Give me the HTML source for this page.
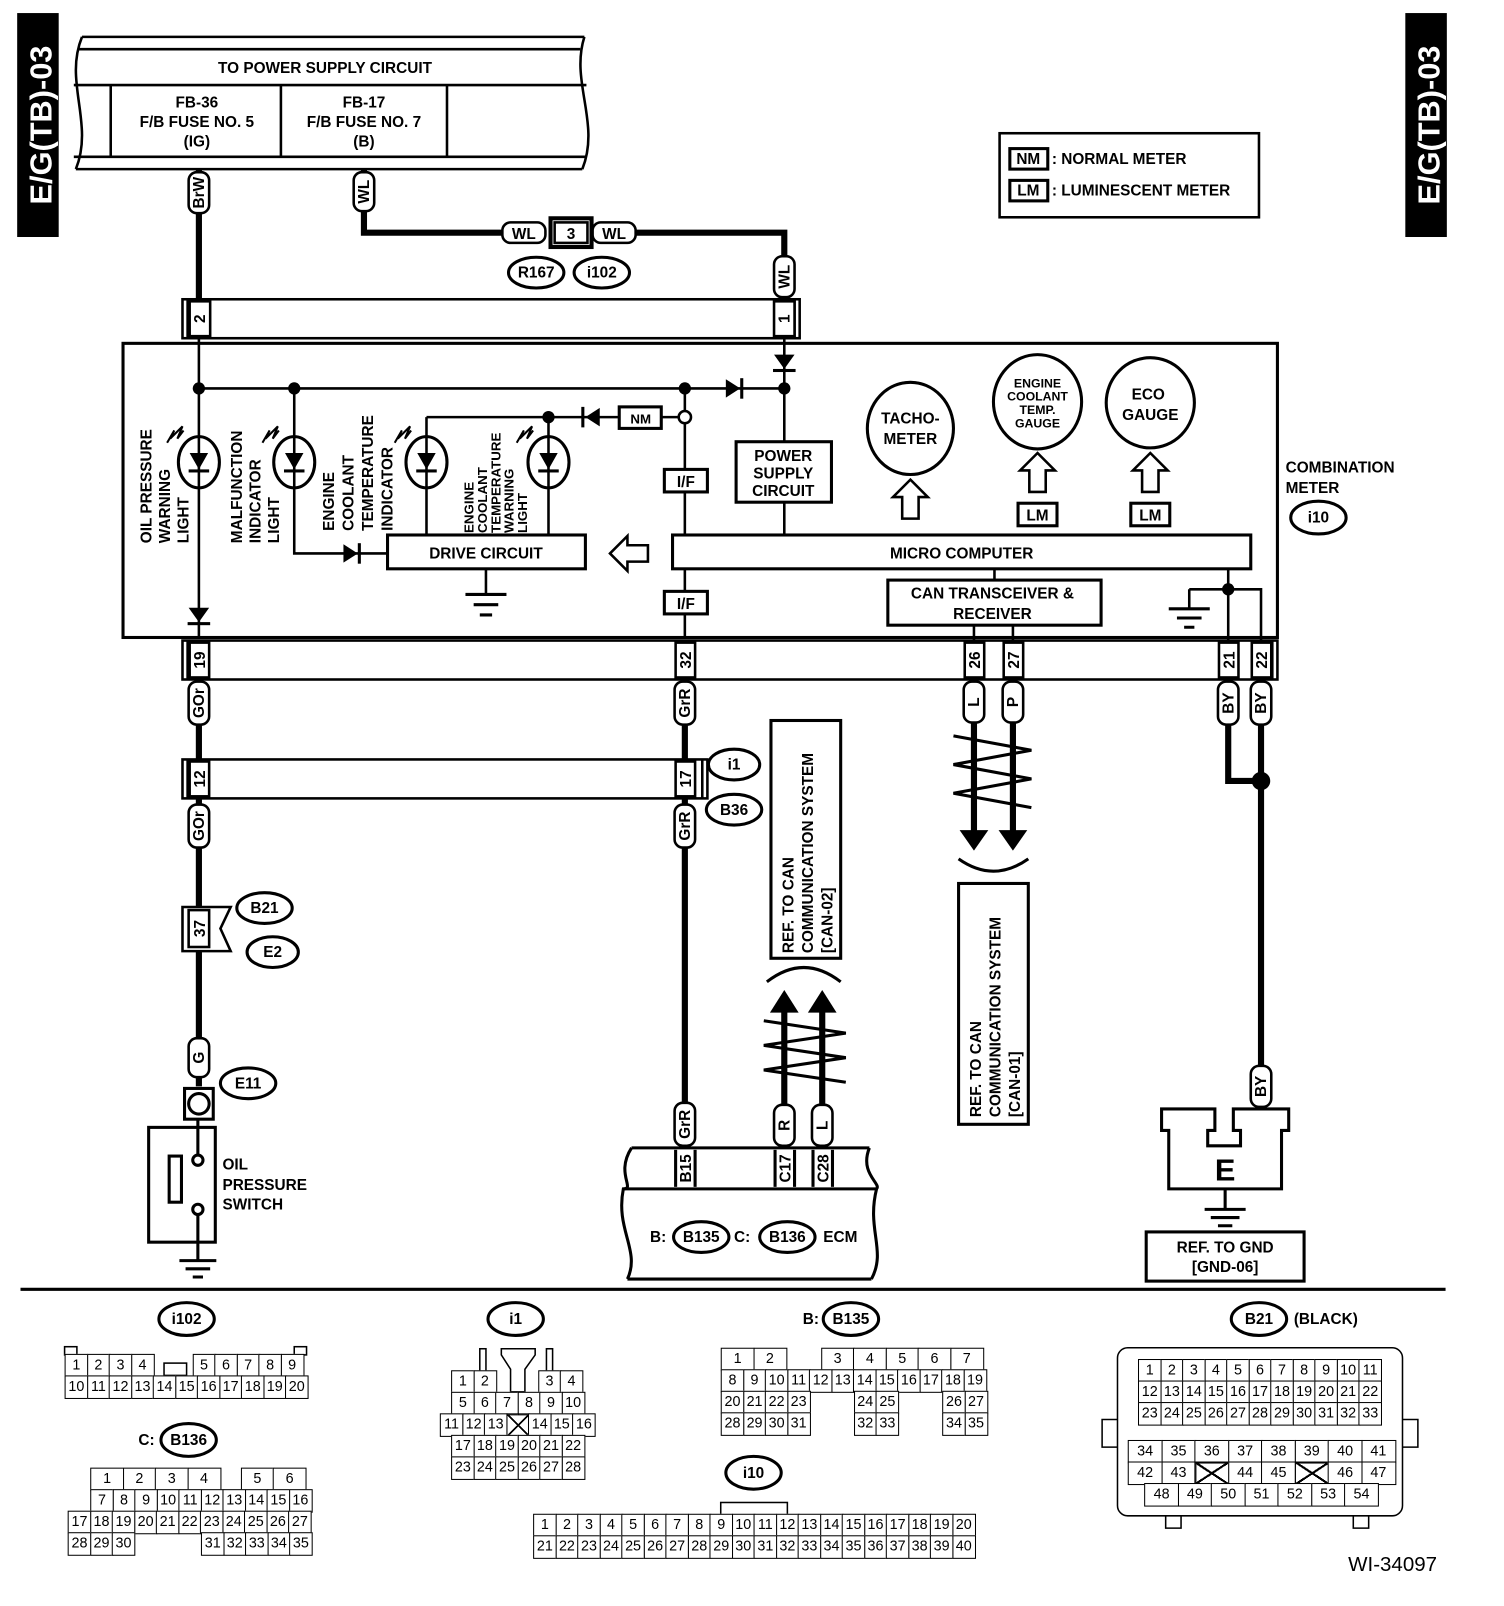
<!DOCTYPE html>
<html><head><meta charset="utf-8">
<style>
html,body{margin:0;padding:0;background:#fff;}
#c{position:absolute;left:0;top:0;width:1467px;height:1567px;transform:scale(1.02522,1.02489);transform-origin:0 0;overflow:hidden;}
svg{position:absolute;left:0;top:0;}
svg text{font-family:"Liberation Sans",sans-serif;font-weight:bold;font-size:15px;fill:#000;}
.r{position:absolute;display:flex;font-family:"Liberation Sans Narrow","Liberation Sans",sans-serif;font-size:14px;}
.r span{box-sizing:border-box;border:1.5px solid #000;margin:0 -1.5px 0 0;height:22.5px;line-height:19px;text-align:center;background:#fff;}
.r span.e{border-color:transparent;background:transparent;}
.r span.x{background:linear-gradient(to top right,transparent 47%,#000 47%,#000 53%,transparent 53%),linear-gradient(to bottom right,transparent 47%,#000 47%,#000 53%,transparent 53%);}
</style></head><body><div id="c">
<svg width="1467" height="1567" viewBox="0 0 1467 1567">
<g fill="none" stroke="#000" stroke-width="2.5">
<rect x="18" y="14" width="38" height="216" fill="#000"/>
<rect x="1372" y="14" width="38" height="216" fill="#000"/>
<path d="M80,36 L570,36 M76,48 L566,48 M72,83 L572,83 M72,153 L572,153 M74,165 L568,165"/>
<path d="M80,36 C62,80 92,120 74,165 M570,36 C556,80 586,120 568,165"/>
<path d="M108,83 V153 M274,83 V153 M436,83 V153"/>
<rect x="975" y="130" width="253" height="82"/>
<rect x="985" y="145" width="37" height="20" stroke-width="3"/>
<rect x="985" y="176" width="37" height="20" stroke-width="3"/>
</g>
<text transform="translate(50,122) rotate(-90)" text-anchor="middle" style="fill:#fff;font-size:30px">E/G(TB)-03</text>
<text transform="translate(1404,122) rotate(-90)" text-anchor="middle" style="fill:#fff;font-size:30px">E/G(TB)-03</text>
<g text-anchor="middle">
<text x="317" y="71">TO POWER SUPPLY CIRCUIT</text>
<text x="192" y="105">FB-36</text><text x="192" y="124">F/B FUSE NO. 5</text><text x="192" y="143">(IG)</text>
<text x="355" y="105">FB-17</text><text x="355" y="124">F/B FUSE NO. 7</text><text x="355" y="143">(B)</text>
<text x="1003" y="160">NM</text><text x="1003" y="191">LM</text>
</g>
<text x="1026" y="160">: NORMAL METER</text>
<text x="1026" y="191">: LUMINESCENT METER</text>

<g stroke="#000" stroke-width="6" fill="none">
<path d="M194,165 V295"/>
<path d="M355,165 V227 H490 M620,227 H765 V292"/>
<path d="M194,663 V1060"/>
<path d="M668,663 V1120"/>
<path d="M950,663 V812 M988,663 V812"/>
<path d="M765,985 V1120 M802,985 V1120"/>
<path d="M1198,663 V762 H1230 M1230,663 V1085"/>
</g>
<circle cx="1230" cy="762" r="9"/>
<g stroke="#000" stroke-width="3" fill="none">
<polyline points="930,718 1006,732 930,746 1006,760 930,774 1006,788"/>
<polyline points="745,996 825,1008 745,1020 825,1032 745,1044 825,1056"/>
<path d="M935,838 Q969,862 1003,838"/>
<path d="M748,958 Q784,930 820,958"/>
</g>
<g fill="#000">
<polygon points="936,810 964,810 950,830"/><polygon points="974,810 1002,810 988,830"/>
<polygon points="751,988 779,988 765,966"/><polygon points="788,988 816,988 802,966"/>
</g>

<g fill="#fff" stroke="#000" stroke-width="2.5">
<rect x="184" y="168" width="20" height="40" rx="8"/>
<rect x="345" y="168" width="20" height="38" rx="8"/>
<rect x="490" y="217" width="42" height="20" rx="8"/>
<rect x="578" y="217" width="42" height="20" rx="8"/>
<rect x="755" y="250" width="20" height="40" rx="8"/>
<rect x="184" y="665" width="20" height="42" rx="8"/>
<rect x="658" y="665" width="20" height="42" rx="8"/>
<rect x="940" y="665" width="20" height="40" rx="8"/>
<rect x="978" y="665" width="20" height="40" rx="8"/>
<rect x="1188" y="665" width="20" height="42" rx="8"/>
<rect x="1220" y="665" width="20" height="42" rx="8"/>
<rect x="184" y="785" width="20" height="42" rx="8"/>
<rect x="658" y="785" width="20" height="42" rx="8"/>
<rect x="184" y="1013" width="20" height="38" rx="8"/>
<rect x="658" y="1076" width="20" height="42" rx="8"/>
<rect x="755" y="1078" width="20" height="40" rx="8"/>
<rect x="792" y="1078" width="20" height="40" rx="8"/>
<rect x="1220" y="1040" width="20" height="40" rx="8"/>
<rect x="537" y="213" width="40" height="28" stroke-width="4"/>
<rect x="541" y="217" width="32" height="20"/>
</g>
<g text-anchor="middle">
<text transform="translate(199,188) rotate(-90)">BrW</text>
<text transform="translate(360,187) rotate(-90)">WL</text>
<text x="511" y="233">WL</text><text x="599" y="233">WL</text><text x="557" y="233">3</text>
<text transform="translate(770,270) rotate(-90)">WL</text>
<text transform="translate(199,686) rotate(-90)">GOr</text>
<text transform="translate(673,686) rotate(-90)">GrR</text>
<text transform="translate(955,685) rotate(-90)">L</text>
<text transform="translate(993,685) rotate(-90)">P</text>
<text transform="translate(1203,686) rotate(-90)">BY</text>
<text transform="translate(1235,686) rotate(-90)">BY</text>
<text transform="translate(199,806) rotate(-90)">GOr</text>
<text transform="translate(673,806) rotate(-90)">GrR</text>
<text transform="translate(199,1032) rotate(-90)">G</text>
<text transform="translate(673,1097) rotate(-90)">GrR</text>
<text transform="translate(770,1098) rotate(-90)">R</text>
<text transform="translate(807,1098) rotate(-90)">L</text>
<text transform="translate(1235,1060) rotate(-90)">BY</text>
</g>

<g fill="#fff" stroke="#000" stroke-width="3">
<ellipse cx="523" cy="266" rx="27" ry="15"/><ellipse cx="587" cy="266" rx="27" ry="15"/>
<ellipse cx="1286" cy="505" rx="27" ry="16"/>
<ellipse cx="716" cy="746" rx="25" ry="15"/><ellipse cx="716" cy="790" rx="27" ry="15"/>
<ellipse cx="258" cy="886" rx="27" ry="15"/><ellipse cx="266" cy="929" rx="25" ry="15"/>
<ellipse cx="242" cy="1057" rx="27" ry="15"/>
<ellipse cx="684" cy="1207" rx="27" ry="15"/><ellipse cx="768" cy="1207" rx="27" ry="15"/>
<ellipse cx="182" cy="1287" rx="27" ry="16"/><ellipse cx="503" cy="1287" rx="27" ry="16"/>
<ellipse cx="830" cy="1287" rx="27" ry="16"/><ellipse cx="1228" cy="1287" rx="27" ry="16"/>
<ellipse cx="184" cy="1405" rx="27" ry="16"/><ellipse cx="735" cy="1437" rx="27" ry="16"/>
</g>
<g text-anchor="middle">
<text x="523" y="271">R167</text><text x="587" y="271">i102</text><text x="1286" y="510">i10</text>
<text x="716" y="751">i1</text><text x="716" y="795">B36</text>
<text x="258" y="891">B21</text><text x="266" y="934">E2</text><text x="242" y="1062">E11</text>
<text x="684" y="1212">B135</text><text x="768" y="1212">B136</text>
<text x="182" y="1292">i102</text><text x="503" y="1292">i1</text><text x="830" y="1292">B135</text>
<text x="1228" y="1292">B21</text><text x="184" y="1410">B136</text><text x="735" y="1442">i10</text>
</g>
<text x="1262" y="1292">(BLACK)</text>
<text x="783" y="1292">B:</text><text x="135" y="1410">C:</text>
<text x="634" y="1212">B:</text><text x="716" y="1212">C:</text><text x="803" y="1212">ECM</text>

<g fill="#fff" stroke="#000" stroke-width="2.5">
<rect x="178" y="292" width="602" height="38"/>
<path d="M183,292 V330 M775,292 V330"/>
<rect x="185" y="294" width="20" height="34"/><rect x="755" y="294" width="20" height="34"/>
<rect x="120" y="335" width="1126" height="287" stroke-width="3"/>
<rect x="178" y="625" width="1068" height="38"/>
<path d="M183,625 V663 M1241,625 V663"/>
<rect x="185" y="627" width="19" height="34"/><rect x="659" y="627" width="19" height="34"/>
<rect x="941" y="627" width="19" height="34"/><rect x="979" y="627" width="19" height="34"/>
<rect x="1189" y="627" width="19" height="34"/><rect x="1221" y="627" width="19" height="34"/>
<rect x="178" y="741" width="512" height="38"/>
<path d="M183,741 V779 M685,741 V779"/>
<rect x="185" y="743" width="19" height="34"/><rect x="659" y="743" width="19" height="34"/>
<path d="M178,885 H225 L215,906 L225,928 H178 Z"/>
<rect x="184" y="888" width="20" height="36"/>
</g>
<g text-anchor="middle" style="font-size:14px">
<text transform="translate(200,311) rotate(-90)">2</text><text transform="translate(770,311) rotate(-90)">1</text>
<text transform="translate(200,644) rotate(-90)">19</text><text transform="translate(674,644) rotate(-90)">32</text>
<text transform="translate(956,644) rotate(-90)">26</text><text transform="translate(994,644) rotate(-90)">27</text>
<text transform="translate(1204,644) rotate(-90)">21</text><text transform="translate(1236,644) rotate(-90)">22</text>
<text transform="translate(200,760) rotate(-90)">12</text><text transform="translate(674,760) rotate(-90)">17</text>
<text transform="translate(200,906) rotate(-90)">37</text>
</g>

<g fill="none" stroke="#000" stroke-width="2.5">
<path d="M194,330 V622 M194,379 H765 M765,330 V522 M287,379 V540 H378 M416,407 H668 M416,407 V522 M535,407 V522 M668,379 V622 M474,555 V580 M970,555 V566 M950,610 V625 M988,610 V625"/>
<path d="M1198,555 V625 M1160,575 H1230 V625 M1160,575 V594"/>
<path d="M1140,594 H1180 M1148,603 H1172 M1155,612 H1165" stroke-width="3"/>
<path d="M454,580 H494 M462,590 H486 M468,600 H480" stroke-width="3"/>
<rect x="378" y="522" width="193" height="33" fill="#fff" stroke-width="3"/>
<rect x="656" y="522" width="564" height="33" fill="#fff" stroke-width="3"/>
<rect x="866" y="566" width="208" height="44" fill="#fff" stroke-width="3"/>
<rect x="718" y="431" width="93" height="59" fill="#fff" stroke-width="3"/>
<rect x="648" y="458" width="42" height="22" fill="#fff" stroke-width="3"/>
<rect x="648" y="577" width="42" height="22" fill="#fff" stroke-width="3"/>
<rect x="604" y="397" width="41" height="21" fill="#fff" stroke-width="3"/>
<circle cx="668" cy="407" r="6" fill="#fff"/>
<ellipse cx="194" cy="451" rx="20" ry="25" fill="#fff" stroke-width="3"/>
<ellipse cx="287" cy="451" rx="20" ry="25" fill="#fff" stroke-width="3"/>
<ellipse cx="416" cy="451" rx="20" ry="25" fill="#fff" stroke-width="3"/>
<ellipse cx="535" cy="451" rx="20" ry="25" fill="#fff" stroke-width="3"/>
<path d="M194,426 V476 M287,426 V476 M416,426 V476 M535,426 V476"/>
<ellipse cx="888" cy="418" rx="42" ry="45" stroke-width="3"/>
<ellipse cx="1012" cy="392" rx="43" ry="46" stroke-width="3"/>
<ellipse cx="1122" cy="393" rx="43" ry="44" stroke-width="3"/>
<path d="M888,468 L905,485 H896 V506 H880 V485 H871 Z"/>
<path d="M1012,442 L1029,459 H1020 V480 H1004 V459 H995 Z"/>
<path d="M1122,442 L1139,459 H1130 V480 H1114 V459 H1105 Z"/>
<path d="M595,540 L612,523 V532 H632 V548 H612 V557 Z"/>
<rect x="993" y="491" width="38" height="22" stroke-width="3"/>
<rect x="1103" y="491" width="38" height="22" stroke-width="3"/>
<path d="M163,432 l7,-12 l-4,8 l12,-12 l-5,12 l6,-8 M256,432 l7,-12 l-4,8 l12,-12 l-5,12 l6,-8 M385,432 l7,-12 l-4,8 l12,-12 l-5,12 l6,-8 M504,432 l7,-12 l-4,8 l12,-12 l-5,12 l6,-8" stroke-width="2"/>
</g>
<g fill="#000">
<circle cx="194" cy="379" r="6"/><circle cx="287" cy="379" r="6"/><circle cx="668" cy="379" r="6"/><circle cx="765" cy="379" r="6"/>
<circle cx="535" cy="407" r="6"/><circle cx="1198" cy="575" r="6"/>
<polygon points="185,442 203,442 194,458"/><polygon points="278,442 296,442 287,458"/>
<polygon points="407,442 425,442 416,458"/><polygon points="526,442 544,442 535,458"/>
<rect x="184" y="458" width="20" height="3"/><rect x="277" y="458" width="20" height="3"/><rect x="406" y="458" width="20" height="3"/><rect x="525" y="458" width="20" height="3"/>
<polygon points="184,593 204,593 194,607"/><rect x="183" y="607" width="22" height="3"/>
<polygon points="755,346 775,346 765,360"/><rect x="754" y="360" width="22" height="3"/>
<polygon points="708,370 708,388 722,379"/><rect x="722" y="369" width="3" height="20"/>
<polygon points="585,398 585,416 571,407"/><rect x="567" y="397" width="3" height="20"/>
<polygon points="335,531 335,549 349,540"/><rect x="349" y="530" width="3" height="20"/>
</g>
<g text-anchor="middle">
<text x="474" y="545">DRIVE CIRCUIT</text>
<text x="938" y="545">MICRO COMPUTER</text>
<text x="968" y="584">CAN TRANSCEIVER &amp;</text><text x="968" y="604">RECEIVER</text>
<text x="764" y="450">POWER</text><text x="764" y="467">SUPPLY</text><text x="764" y="484">CIRCUIT</text>
<text x="669" y="475">I/F</text><text x="669" y="594">I/F</text><text x="625" y="413" style="font-size:13px">NM</text>
<text x="888" y="413">TACHO-</text><text x="888" y="433">METER</text>
<text x="1012" y="378" style="font-size:12px">ENGINE</text><text x="1012" y="391" style="font-size:12px">COOLANT</text><text x="1012" y="404" style="font-size:12px">TEMP.</text><text x="1012" y="417" style="font-size:12px">GAUGE</text>
<text x="1120" y="390">ECO</text><text x="1122" y="410">GAUGE</text>
<text x="1012" y="508">LM</text><text x="1122" y="508">LM</text>
</g>
<g>
<text transform="translate(148,530) rotate(-90)">OIL PRESSURE</text>
<text transform="translate(166,530) rotate(-90)">WARNING</text>
<text transform="translate(184,530) rotate(-90)">LIGHT</text>
<text transform="translate(236,530) rotate(-90)">MALFUNCTION</text>
<text transform="translate(254,530) rotate(-90)">INDICATOR</text>
<text transform="translate(272,530) rotate(-90)">LIGHT</text>
<text transform="translate(326,518) rotate(-90)">ENGINE</text>
<text transform="translate(345,518) rotate(-90)">COOLANT</text>
<text transform="translate(364,518) rotate(-90)">TEMPERATURE</text>
<text transform="translate(383,518) rotate(-90)">INDICATOR</text>
<text transform="translate(462,520) rotate(-90)" style="font-size:13px">ENGINE</text>
<text transform="translate(475,520) rotate(-90)" style="font-size:13px">COOLANT</text>
<text transform="translate(488,520) rotate(-90)" style="font-size:13px">TEMPERATURE</text>
<text transform="translate(501,520) rotate(-90)" style="font-size:13px">WARNING</text>
<text transform="translate(514,520) rotate(-90)" style="font-size:13px">LIGHT</text>
<text x="1254" y="461">COMBINATION</text><text x="1254" y="481">METER</text>
</g>

<g fill="none" stroke="#000" stroke-width="3">
<rect x="180" y="1062" width="28" height="30"/><circle cx="194" cy="1077" r="10"/>
<rect x="145" y="1100" width="65" height="112"/>
<rect x="165" y="1128" width="12" height="45"/>
<path d="M193,1092 V1128 M193,1180 V1230"/>
<circle cx="193" cy="1132" r="5" fill="#fff"/><circle cx="193" cy="1180" r="5" fill="#fff"/>
<path d="M175,1230 H211 M181,1238 H205 M188,1246 H198"/>
</g>
<text x="217" y="1141">OIL</text><text x="217" y="1161">PRESSURE</text><text x="217" y="1180">SWITCH</text>

<g fill="none" stroke="#000" stroke-width="3">
<path d="M616,1120 H848 M608,1160 H855 M612,1248 H850"/>
<path d="M616,1120 C600,1145 620,1160 608,1160 C600,1200 625,1220 612,1248 M848,1120 C838,1145 860,1155 855,1160 C845,1200 865,1220 850,1248"/>
<path d="M659,1122 V1158 M678,1122 V1158 M756,1122 V1158 M775,1122 V1158 M793,1122 V1158 M812,1122 V1158"/>
</g>
<g text-anchor="middle" style="font-size:14px">
<text transform="translate(674,1140) rotate(-90)">B15</text>
<text transform="translate(771,1140) rotate(-90)">C17</text>
<text transform="translate(808,1140) rotate(-90)">C28</text>
</g>

<g fill="none" stroke="#000" stroke-width="3">
<rect x="752" y="703" width="68" height="232"/>
<rect x="935" y="862" width="68" height="235"/>
<rect x="1118" y="1202" width="154" height="48"/>
</g>
<text transform="translate(774,930) rotate(-90)">REF. TO CAN</text>
<text transform="translate(793,930) rotate(-90)">COMMUNICATION SYSTEM</text>
<text transform="translate(812,930) rotate(-90)">[CAN-02]</text>
<text transform="translate(957,1090) rotate(-90)">REF. TO CAN</text>
<text transform="translate(976,1090) rotate(-90)">COMMUNICATION SYSTEM</text>
<text transform="translate(995,1090) rotate(-90)">[CAN-01]</text>
<text x="1195" y="1222" text-anchor="middle">REF. TO GND</text>
<text x="1195" y="1241" text-anchor="middle">[GND-06]</text>

<g fill="#fff" stroke="#000" stroke-width="3">
<path d="M1133,1082 H1185 V1103 H1178 V1118 H1210 V1103 H1203 V1082 H1257 V1103 H1250 V1160 H1140 V1103 H1133 Z"/>
<path d="M1195,1160 V1180 M1175,1180 H1215 M1181,1188 H1209 M1188,1196 H1202" fill="none"/>
</g>
<text x="1195" y="1152" text-anchor="middle" style="font-size:30px">E</text>

<line x1="20" y1="1258" x2="1410" y2="1258" stroke="#000" stroke-width="3"/>
<text x="1315" y="1533" style="font-weight:normal;font-size:20px">WI-34097</text>

<g fill="#fff" stroke="#000" stroke-width="1.5">
<rect x="63" y="1314" width="12" height="8"/><rect x="287" y="1314" width="12" height="8"/>
<rect x="160" y="1330" width="22" height="12"/>
<rect x="468" y="1316" width="6" height="22"/><rect x="533" y="1316" width="6" height="22"/>
<path d="M489,1316 H522 V1322 L512,1336 V1358 H498 V1336 L489,1322 Z"/>
<rect x="703" y="1466" width="65" height="12"/>
<rect x="1090" y="1315" width="278" height="164" rx="10"/>
<path d="M1090,1385 H1075 V1412 H1090 M1368,1385 H1383 V1412 H1368 M1137,1479 V1491 H1152 V1479 M1320,1479 V1491 H1335 V1479" fill="none"/>
</g>
</svg>

<div class="r" style="left:63px;top:1321px"><span style="width:23px">1</span><span style="width:23px">2</span><span style="width:23px">3</span><span style="width:23px">4</span><span class="e" style="width:40px"></span><span style="width:23px">5</span><span style="width:23px">6</span><span style="width:23px">7</span><span style="width:23px">8</span><span style="width:23px">9</span></div>
<div class="r" style="left:63px;top:1342px"><span style="width:23px">10</span><span style="width:23px">11</span><span style="width:23px">12</span><span style="width:23px">13</span><span style="width:23px">14</span><span style="width:23px">15</span><span style="width:23px">16</span><span style="width:23px">17</span><span style="width:23px">18</span><span style="width:23px">19</span><span style="width:23px">20</span></div>
<div class="r" style="left:88px;top:1432px"><span style="width:33px">1</span><span style="width:33px">2</span><span style="width:33px">3</span><span style="width:33px">4</span><span class="e" style="width:22px"></span><span style="width:33px">5</span><span style="width:33px">6</span></div>
<div class="r" style="left:88px;top:1453px"><span style="width:23px">7</span><span style="width:23px">8</span><span style="width:23px">9</span><span style="width:23px">10</span><span style="width:23px">11</span><span style="width:23px">12</span><span style="width:23px">13</span><span style="width:23px">14</span><span style="width:23px">15</span><span style="width:23px">16</span></div>
<div class="r" style="left:66px;top:1474px"><span style="width:23px">17</span><span style="width:23px">18</span><span style="width:23px">19</span><span style="width:23px">20</span><span style="width:23px">21</span><span style="width:23px">22</span><span style="width:23px">23</span><span style="width:23px">24</span><span style="width:23px">25</span><span style="width:23px">26</span><span style="width:23px">27</span></div>
<div class="r" style="left:66px;top:1495px"><span style="width:23px">28</span><span style="width:23px">29</span><span style="width:23px">30</span><span class="e" style="width:67px"></span><span style="width:23px">31</span><span style="width:23px">32</span><span style="width:23px">33</span><span style="width:23px">34</span><span style="width:23px">35</span></div>
<div class="r" style="left:440px;top:1337px"><span style="width:23px">1</span><span style="width:23px">2</span><span class="e" style="width:43px"></span><span style="width:23px">3</span><span style="width:23px">4</span></div>
<div class="r" style="left:440px;top:1358px"><span style="width:23px">5</span><span style="width:23px">6</span><span style="width:23px">7</span><span style="width:23px">8</span><span style="width:23px">9</span><span style="width:23px">10</span></div>
<div class="r" style="left:429px;top:1379px"><span style="width:23px">11</span><span style="width:23px">12</span><span style="width:23px">13</span><span class="x" style="width:23px"></span><span style="width:23px">14</span><span style="width:23px">15</span><span style="width:23px">16</span></div>
<div class="r" style="left:440px;top:1400px"><span style="width:23px">17</span><span style="width:23px">18</span><span style="width:23px">19</span><span style="width:23px">20</span><span style="width:23px">21</span><span style="width:23px">22</span></div>
<div class="r" style="left:440px;top:1421px"><span style="width:23px">23</span><span style="width:23px">24</span><span style="width:23px">25</span><span style="width:23px">26</span><span style="width:23px">27</span><span style="width:23px">28</span></div>
<div class="r" style="left:703px;top:1315px"><span style="width:33px">1</span><span style="width:33px">2</span><span class="e" style="width:36px"></span><span style="width:33px">3</span><span style="width:33px">4</span><span style="width:33px">5</span><span style="width:33px">6</span><span style="width:33px">7</span></div>
<div class="r" style="left:703px;top:1336px"><span style="width:23px">8</span><span style="width:23px">9</span><span style="width:23px">10</span><span style="width:23px">11</span><span style="width:23px">12</span><span style="width:23px">13</span><span style="width:23px">14</span><span style="width:23px">15</span><span style="width:23px">16</span><span style="width:23px">17</span><span style="width:23px">18</span><span style="width:23px">19</span></div>
<div class="r" style="left:703px;top:1357px"><span style="width:23px">20</span><span style="width:23px">21</span><span style="width:23px">22</span><span style="width:23px">23</span><span class="e" style="width:45px"></span><span style="width:23px">24</span><span style="width:23px">25</span><span class="e" style="width:45px"></span><span style="width:23px">26</span><span style="width:23px">27</span></div>
<div class="r" style="left:703px;top:1378px"><span style="width:23px">28</span><span style="width:23px">29</span><span style="width:23px">30</span><span style="width:23px">31</span><span class="e" style="width:45px"></span><span style="width:23px">32</span><span style="width:23px">33</span><span class="e" style="width:45px"></span><span style="width:23px">34</span><span style="width:23px">35</span></div>
<div class="r" style="left:520px;top:1477px"><span style="width:23px">1</span><span style="width:23px">2</span><span style="width:23px">3</span><span style="width:23px">4</span><span style="width:23px">5</span><span style="width:23px">6</span><span style="width:23px">7</span><span style="width:23px">8</span><span style="width:23px">9</span><span style="width:23px">10</span><span style="width:23px">11</span><span style="width:23px">12</span><span style="width:23px">13</span><span style="width:23px">14</span><span style="width:23px">15</span><span style="width:23px">16</span><span style="width:23px">17</span><span style="width:23px">18</span><span style="width:23px">19</span><span style="width:23px">20</span></div>
<div class="r" style="left:520px;top:1498px"><span style="width:23px">21</span><span style="width:23px">22</span><span style="width:23px">23</span><span style="width:23px">24</span><span style="width:23px">25</span><span style="width:23px">26</span><span style="width:23px">27</span><span style="width:23px">28</span><span style="width:23px">29</span><span style="width:23px">30</span><span style="width:23px">31</span><span style="width:23px">32</span><span style="width:23px">33</span><span style="width:23px">34</span><span style="width:23px">35</span><span style="width:23px">36</span><span style="width:23px">37</span><span style="width:23px">38</span><span style="width:23px">39</span><span style="width:23px">40</span></div>
<div class="r" style="left:1110px;top:1326px"><span style="width:23px">1</span><span style="width:23px">2</span><span style="width:23px">3</span><span style="width:23px">4</span><span style="width:23px">5</span><span style="width:23px">6</span><span style="width:23px">7</span><span style="width:23px">8</span><span style="width:23px">9</span><span style="width:23px">10</span><span style="width:23px">11</span></div>
<div class="r" style="left:1110px;top:1347px"><span style="width:23px">12</span><span style="width:23px">13</span><span style="width:23px">14</span><span style="width:23px">15</span><span style="width:23px">16</span><span style="width:23px">17</span><span style="width:23px">18</span><span style="width:23px">19</span><span style="width:23px">20</span><span style="width:23px">21</span><span style="width:23px">22</span></div>
<div class="r" style="left:1110px;top:1368px"><span style="width:23px">23</span><span style="width:23px">24</span><span style="width:23px">25</span><span style="width:23px">26</span><span style="width:23px">27</span><span style="width:23px">28</span><span style="width:23px">29</span><span style="width:23px">30</span><span style="width:23px">31</span><span style="width:23px">32</span><span style="width:23px">33</span></div>
<div class="r" style="left:1100px;top:1405px"><span style="width:34px">34</span><span style="width:34px">35</span><span style="width:34px">36</span><span style="width:34px">37</span><span style="width:34px">38</span><span style="width:34px">39</span><span style="width:34px">40</span><span style="width:34px">41</span></div>
<div class="r" style="left:1100px;top:1426px"><span style="width:34px">42</span><span style="width:34px">43</span><span class="x" style="width:34px"></span><span style="width:34px">44</span><span style="width:34px">45</span><span class="x" style="width:34px"></span><span style="width:34px">46</span><span style="width:34px">47</span></div>
<div class="r" style="left:1116px;top:1447px"><span style="width:34px">48</span><span style="width:34px">49</span><span style="width:34px">50</span><span style="width:34px">51</span><span style="width:34px">52</span><span style="width:34px">53</span><span style="width:34px">54</span></div>
</div></body></html>
